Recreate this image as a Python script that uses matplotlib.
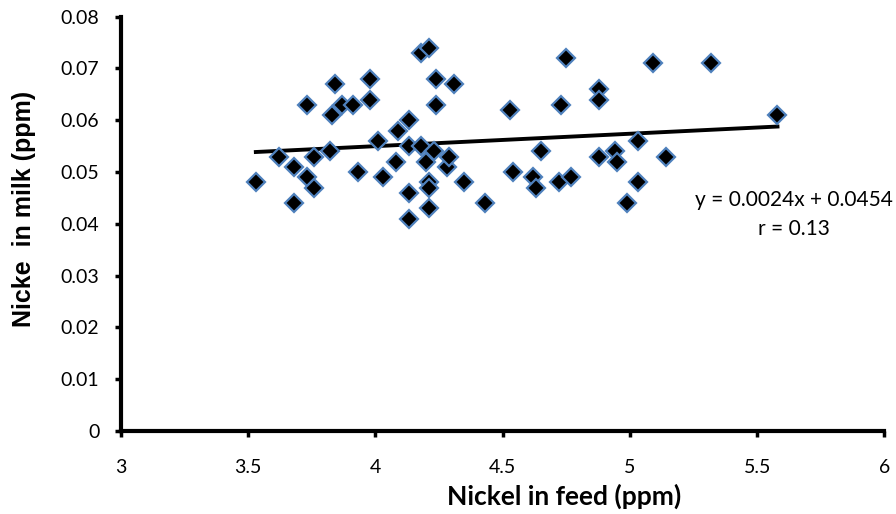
import matplotlib
matplotlib.use("Agg")
import matplotlib.pyplot as plt
from matplotlib.ticker import FuncFormatter

plt.rcParams['font.family'] = ['Lato', 'DejaVu Sans']

# nickel in feed (ppm) vs nickel in milk (ppm)
feed = [3.53, 3.62, 3.68, 3.68, 3.73, 3.73, 3.76, 3.76, 3.82, 3.83,
        3.84, 3.87, 3.91, 3.93, 3.98, 3.98, 4.01, 4.03, 4.08, 4.09,
        4.13, 4.13, 4.13, 4.13, 4.18, 4.21, 4.18, 4.20, 4.21, 4.21,
        4.21, 4.23, 4.24, 4.24, 4.28, 4.29, 4.31, 4.35, 4.43, 4.53,
        4.54, 4.62, 4.63, 4.65, 4.72, 4.73, 4.75, 4.77, 4.88, 4.88,
        4.88, 4.94, 4.95, 4.99, 5.03, 5.03, 5.09, 5.14, 5.32, 5.58]
milk = [0.048, 0.053, 0.051, 0.044, 0.063, 0.049, 0.047, 0.053, 0.054, 0.061,
        0.067, 0.063, 0.063, 0.050, 0.068, 0.064, 0.056, 0.049, 0.052, 0.058,
        0.060, 0.055, 0.046, 0.041, 0.073, 0.074, 0.055, 0.052, 0.048, 0.047,
        0.043, 0.054, 0.068, 0.063, 0.051, 0.053, 0.067, 0.048, 0.044, 0.062,
        0.050, 0.049, 0.047, 0.054, 0.048, 0.063, 0.072, 0.049, 0.066, 0.064,
        0.053, 0.054, 0.052, 0.044, 0.056, 0.048, 0.071, 0.053, 0.071, 0.061]

slope = 0.0024
intercept = 0.0454
r_value = 0.13
fit_x = [min(feed), max(feed)]
fit_y = [slope * v + intercept for v in fit_x]

fig = plt.figure(figsize=(8.96, 5.14), dpi=100)
ax = fig.add_axes([0.135, 0.1615, 0.852, 0.806])

ax.plot(feed, milk, 'D', color='black', markersize=9.5,
        markeredgecolor='#4f81bd', markeredgewidth=1.6, zorder=3)
ax.plot(fit_x, fit_y, '-', color='black', linewidth=2.8, zorder=2)

ax.set_xlim(3, 6)
ax.set_ylim(0, 0.08)
ax.set_xticks([3, 3.5, 4, 4.5, 5, 5.5, 6])
ax.set_yticks([0, 0.01, 0.02, 0.03, 0.04, 0.05, 0.06, 0.07, 0.08])
fmt = FuncFormatter(lambda v, p: f'{v:g}')
ax.xaxis.set_major_formatter(fmt)
ax.yaxis.set_major_formatter(fmt)

for s in ['top', 'right']:
    ax.spines[s].set_visible(False)
for s in ['left', 'bottom']:
    ax.spines[s].set_linewidth(3)
ax.tick_params(axis='both', which='major', width=2.5, length=4.5,
               labelsize=14)
ax.tick_params(axis='x', pad=16)
ax.tick_params(axis='y', pad=11)

ax.set_xlabel('Nickel in feed (ppm)', fontsize=19, fontweight='bold')
ax.xaxis.set_label_coords(0.581, -0.128)
ax.set_ylabel('Nicke  in milk (ppm)', fontsize=18, fontweight='bold',
              family=['Liberation Sans', 'DejaVu Sans'])
ax.yaxis.set_label_coords(-0.111, 0.536)

ax.text(5.646, 0.0446, f'y = {slope}x + {intercept}', fontsize=15,
        ha='center', va='center')
ax.text(5.646, 0.0391, f'r = {r_value}', fontsize=15,
        ha='center', va='center')

fig.savefig('out.png', dpi=100)
